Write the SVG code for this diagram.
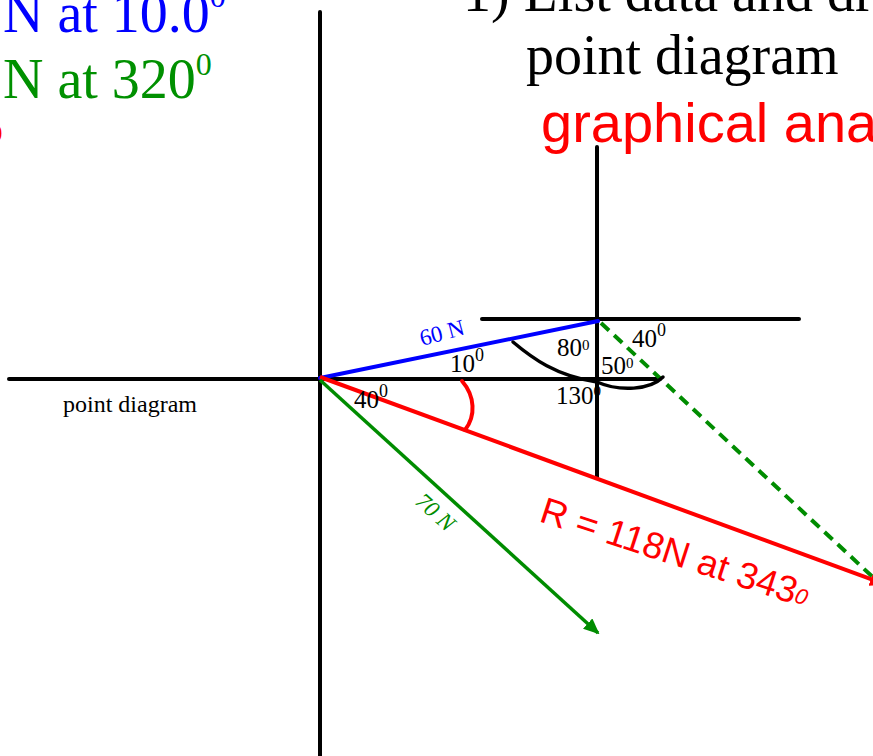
<svg xmlns="http://www.w3.org/2000/svg" width="873" height="756" viewBox="0 0 873 756">
<style>
.serif{font-family:"Liberation Serif","Times New Roman",serif}
.sans{font-family:"Liberation Sans",Arial,sans-serif}
.axis{stroke:#000;stroke-width:4;fill:none;stroke-linecap:round}
.ang{font-size:25px;fill:#000}
.sup{font-size:18px}
.sups{font-size:15px}
</style>
<defs>
<marker id="arrG" markerUnits="userSpaceOnUse" markerWidth="16" markerHeight="14" refX="14" refY="7" orient="auto"><path d="M0,0 L16,7 L0,14 Z" fill="#008C00"/></marker>
<marker id="arrR" markerUnits="userSpaceOnUse" markerWidth="16" markerHeight="14" refX="14" refY="7" orient="auto"><path d="M0,0 L16,7 L0,14 Z" fill="#FF0000"/></marker>
</defs>
<rect width="873" height="756" fill="#fff"/>

<g id="header">
<text class="serif" x="3" y="32" font-size="56" fill="#0000FF">N at 10.0<tspan font-size="32" dy="-25">0</tspan></text>
<text class="serif" x="3" y="98" font-size="56" fill="#009000">N at 320<tspan font-size="32" dy="-23">0</tspan></text>
<text class="serif" x="-18" y="143" font-size="42" font-weight="bold" fill="#FF0000">o</text>
<text class="serif" x="463" y="11" font-size="56" fill="#000">1) List data and dra</text>
<text class="serif" x="526" y="74" font-size="56" fill="#000">point diagram</text>
<text class="sans" x="541" y="142" font-size="56" fill="#FF0000">graphical ana</text>
</g>

<g id="axes">
<line class="axis" x1="320" y1="12" x2="320" y2="760"/>
<line class="axis" x1="9" y1="379" x2="660" y2="379"/>
<line class="axis" x1="597" y1="147" x2="597" y2="477"/>
<line class="axis" x1="482" y1="319" x2="799" y2="319"/>
</g>

<g id="connectors">
<line x1="320" y1="378" x2="598" y2="321" stroke="#0000FF" stroke-width="4" stroke-linecap="round"/>
<line x1="601" y1="323" x2="878" y2="582" stroke="#008C00" stroke-width="4" stroke-dasharray="11,7"/>
<line x1="320" y1="377" x2="884" y2="584" stroke="#FF0000" stroke-width="4" marker-end="url(#arrR)"/>
<line x1="320" y1="380" x2="598" y2="633" stroke="#008C00" stroke-width="3.5" marker-end="url(#arrG)"/>
<path d="M462,381 C475,396 476,416 465,430" stroke="#FF0000" stroke-width="4" fill="none" stroke-linecap="round"/>
<path d="M513,342 C532,358 556,376 597,382 C620,392 650,390 663,377" stroke="#000" stroke-width="3.5" fill="none" stroke-linecap="round"/>
</g>

<g id="labels">
<text class="serif" x="63" y="412" font-size="24" fill="#000">point diagram</text>
<text class="serif" font-size="23" fill="#0000FF" transform="translate(422,346) rotate(-15)">60 N</text>
<text class="serif ang" x="450" y="372">10<tspan class="sup" dy="-11">0</tspan></text>
<text class="serif ang" x="557" y="356">80<tspan class="sups" dy="-6">0</tspan></text>
<text class="serif ang" x="632" y="347">40<tspan class="sup" dy="-11">0</tspan></text>
<text class="serif ang" x="601" y="374" font-size="24">50<tspan class="sups" dy="-6">0</tspan></text>
<text class="serif ang" x="556" y="404">130<tspan class="sups" dy="-8">0</tspan></text>
<text class="serif ang" x="354" y="408">40<tspan class="sup" dy="-11">0</tspan></text>
<text class="serif" font-size="23" font-style="italic" fill="#008C00" transform="translate(414,503) rotate(42)">70 N</text>
<text class="sans" font-size="37" fill="#FF0000" transform="translate(538,521) rotate(18)">R = 118N at 343<tspan font-size="22" font-style="italic" dy="-2">0</tspan></text>
</g>
</svg>
